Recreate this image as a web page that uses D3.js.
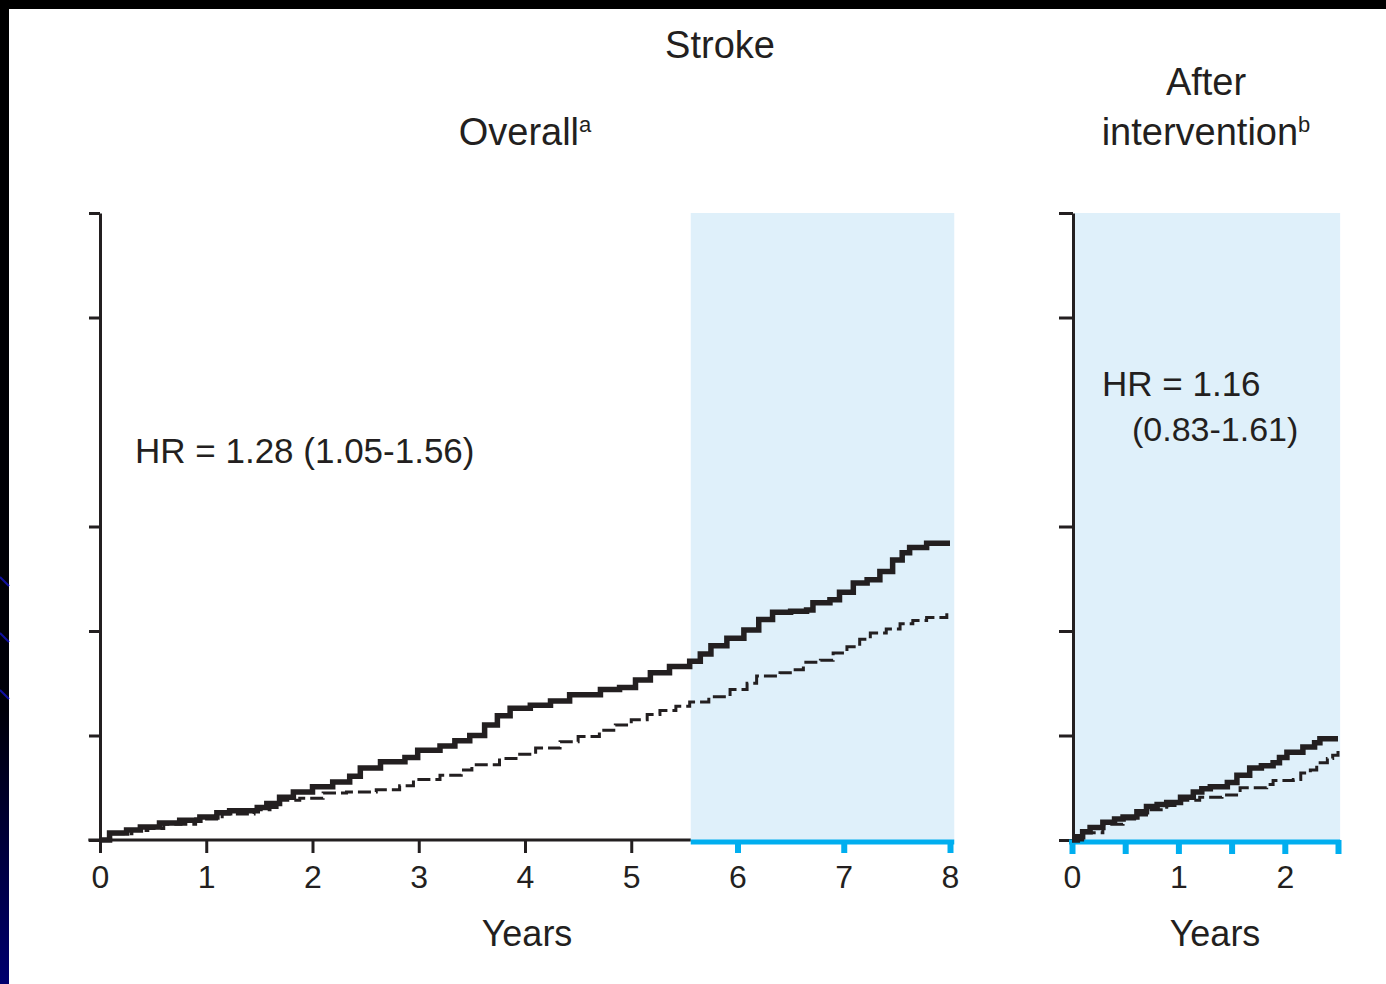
<!DOCTYPE html>
<html>
<head>
<meta charset="utf-8">
<script src="https://cdn.jsdelivr.net/npm/d3@7"></script>
<style>
  html, body { margin: 0; padding: 0; background: #fff; }
  svg { display: block; }
  text { font-family: "Liberation Sans", Arial, Helvetica, sans-serif; fill: #231f20; }
</style>
</head>
<body>
<svg id="chart" width="1386" height="984"></svg>
<script>
// Cumulative stroke incidence, overall follow-up (years 0-8)
const overallYears   = [0, 0.09, 0.25, 0.38, 0.56, 0.75, 0.94, 1.10, 1.22, 1.48, 1.57, 1.69, 1.82, 2.0, 2.19, 2.35, 2.45, 2.64, 2.87, 2.99, 3.2, 3.34, 3.48, 3.62, 3.74, 3.86, 4.05, 4.24, 4.42, 4.71, 4.89, 5.04, 5.18, 5.36, 5.55, 5.65, 5.75, 5.9, 6.06, 6.2, 6.33, 6.5, 6.65, 6.71, 6.87, 6.96, 7.09, 7.22, 7.34, 7.46, 7.55, 7.62, 7.78, 8.0];
const overallActive  = [0, 0.067, 0.096, 0.124, 0.163, 0.19, 0.22, 0.26, 0.28, 0.31, 0.35, 0.41, 0.46, 0.51, 0.555, 0.61, 0.69, 0.75, 0.79, 0.86, 0.90, 0.95, 1.0, 1.10, 1.19, 1.26, 1.29, 1.33, 1.39, 1.44, 1.46, 1.53, 1.60, 1.66, 1.71, 1.78, 1.86, 1.93, 2.01, 2.11, 2.18, 2.19, 2.20, 2.27, 2.30, 2.37, 2.46, 2.49, 2.57, 2.68, 2.75, 2.80, 2.84, 2.84];
const overallYearsP  = [0, 0.1, 0.3, 0.45, 0.6, 0.9, 1.15, 1.45, 1.6, 1.69, 1.88, 2.1, 2.32, 2.6, 2.82, 2.95, 3.2, 3.4, 3.5, 3.76, 3.95, 4.1, 4.33, 4.5, 4.7, 4.85, 5.0, 5.15, 5.27, 5.42, 5.55, 5.73, 5.93, 6.09, 6.18, 6.4, 6.52, 6.62, 6.78, 6.9, 7.03, 7.15, 7.25, 7.4, 7.53, 7.65, 7.78, 7.97];
const overallPlacebo = [0, 0.06, 0.09, 0.11, 0.15, 0.20, 0.25, 0.29, 0.31, 0.38, 0.40, 0.45, 0.46, 0.48, 0.52, 0.58, 0.62, 0.67, 0.72, 0.78, 0.82, 0.88, 0.94, 0.99, 1.05, 1.10, 1.15, 1.20, 1.24, 1.28, 1.32, 1.37, 1.44, 1.50, 1.57, 1.60, 1.63, 1.70, 1.72, 1.79, 1.85, 1.92, 1.98, 2.02, 2.07, 2.10, 2.13, 2.17];

// Cumulative stroke incidence after the intervention ended (years 0-2.5)
const afterYears    = [0, 0.05, 0.1, 0.17, 0.29, 0.4, 0.48, 0.61, 0.70, 0.8, 0.89, 1.02, 1.14, 1.22, 1.30, 1.46, 1.55, 1.67, 1.78, 1.89, 1.95, 2.02, 2.17, 2.28, 2.33, 2.5];
const afterActive   = [0, 0.03, 0.08, 0.12, 0.17, 0.20, 0.22, 0.27, 0.32, 0.34, 0.36, 0.41, 0.46, 0.49, 0.51, 0.55, 0.62, 0.69, 0.71, 0.74, 0.79, 0.84, 0.89, 0.93, 0.97, 0.97];
const afterYearsP   = [0, 0.1, 0.29, 0.48, 0.61, 0.70, 0.89, 1.02, 1.2, 1.41, 1.58, 1.83, 1.89, 2.08, 2.15, 2.24, 2.3, 2.4, 2.45, 2.5];
const afterPlacebo  = [0, 0.07, 0.15, 0.20, 0.24, 0.29, 0.33, 0.38, 0.41, 0.43, 0.50, 0.53, 0.57, 0.58, 0.64, 0.67, 0.74, 0.78, 0.81, 0.86];

// Axis tick values
const yTicks         = [0, 1, 2, 3, 5, 6];
const overallXTicksA = [0, 1, 2, 3, 4, 5];
const overallXTicksB = [6, 7, 8];
const afterXTicks    = [0, 0.5, 1, 1.5, 2, 2.5];
const afterXLabels   = [0, 1, 2];

// Post-intervention shaded windows (years)
const overallShade = [5.56, 8.04];
const afterShade   = [0.02, 2.52];

// Texts
const mainTitle    = "Stroke";
const leftTitle    = "Overall";
const leftSup      = "a";
const rightTitle1  = "After";
const rightTitle2  = "intervention";
const rightSup     = "b";
const leftHR       = "HR = 1.28 (1.05-1.56)";
const rightHR1     = "HR = 1.16";
const rightHR2     = "(0.83-1.61)";
const xTitle       = "Years";

const INK = "#231f20", BLUE = "#00aeef", SHADE = "#dff0fa";

const svg = d3.select("#chart");

// Slide frame on the top and left edges
const defs = svg.append("defs");
const grad = defs.append("linearGradient").attr("id", "edge").attr("x1", 0).attr("y1", 0).attr("x2", 0).attr("y2", 1);
grad.append("stop").attr("offset", "0%").attr("stop-color", "#000");
grad.append("stop").attr("offset", "72%").attr("stop-color", "#000008");
grad.append("stop").attr("offset", "100%").attr("stop-color", "#00006e");
svg.append("rect").attr("x", 0).attr("y", 0).attr("width", 1386).attr("height", 9).attr("fill", "#000");
svg.append("rect").attr("x", 0).attr("y", 0).attr("width", 9).attr("height", 984).attr("fill", "url(#edge)");
[582, 638, 695].forEach(y => {
  svg.append("line").attr("x1", 0).attr("y1", y - 5).attr("x2", 9).attr("y2", y + 4)
    .attr("stroke", "#1010a0").attr("stroke-width", 2);
});

const y = d3.scaleLinear().domain([0, 6]).range([840, 213]);
const xL = d3.scaleLinear().domain([0, 8]).range([100, 950]);
const xR = d3.scaleLinear().domain([0, 2.5]).range([1072, 1338]);

// Shaded post-intervention windows
svg.append("rect").attr("x", xL(overallShade[0])).attr("y", y(6))
  .attr("width", xL(overallShade[1]) - xL(overallShade[0])).attr("height", y(0) - y(6)).attr("fill", SHADE);
svg.append("rect").attr("x", xR(afterShade[0])).attr("y", y(6))
  .attr("width", xR(afterShade[1]) - xR(afterShade[0])).attr("height", y(0) - y(6)).attr("fill", SHADE);

function styleAxis(g, color, width) {
  g.selectAll(".domain").remove();
  g.selectAll(".tick line").attr("stroke", color).attr("stroke-width", width);
  g.selectAll(".tick text").attr("fill", INK).style("font-size", "32px")
    .style("font-family", '"Liberation Sans", Arial, sans-serif');
}

// ---- Left panel: overall ----
const yAxisL = svg.append("g").attr("transform", `translate(${xL(0)},0)`)
  .call(d3.axisLeft(y).tickValues(yTicks).tickFormat("").tickSizeInner(11).tickSizeOuter(0));
yAxisL.select(".domain").attr("stroke", INK).attr("stroke-width", 3);
yAxisL.selectAll(".tick line").attr("stroke", INK).attr("stroke-width", 3);

const xAxisLA = svg.append("g").attr("transform", `translate(0,${y(0)})`)
  .call(d3.axisBottom(xL).tickValues(overallXTicksA).tickFormat(d3.format("d")).tickSize(13).tickPadding(12));
styleAxis(xAxisLA, INK, 3);
svg.append("line").attr("x1", xL(-0.11)).attr("x2", xL(overallShade[0])).attr("y1", y(0)).attr("y2", y(0))
  .attr("stroke", INK).attr("stroke-width", 3);

const xAxisLB = svg.append("g").attr("transform", `translate(0,${y(0)})`)
  .call(d3.axisBottom(xL).tickValues(overallXTicksB).tickFormat(d3.format("d")).tickSize(13).tickPadding(12));
styleAxis(xAxisLB, BLUE, 6);
svg.append("line").attr("x1", xL(overallShade[0])).attr("x2", xL(overallShade[1])).attr("y1", y(0) + 2).attr("y2", y(0) + 2)
  .attr("stroke", BLUE).attr("stroke-width", 5);

const stepL = d3.line().x(d => xL(d[0])).y(d => y(d[1])).curve(d3.curveStepAfter);
svg.append("path").datum(d3.zip(overallYearsP, overallPlacebo)).attr("d", stepL)
  .attr("fill", "none").attr("stroke", INK).attr("stroke-width", 3).attr("stroke-dasharray", "13,5");
svg.append("path").datum(d3.zip(overallYears, overallActive)).attr("d", stepL)
  .attr("fill", "none").attr("stroke", INK).attr("stroke-width", 5.5);

// ---- Right panel: after intervention ----
const yAxisR = svg.append("g").attr("transform", `translate(${xR(0) + 1},0)`)
  .call(d3.axisLeft(y).tickValues(yTicks).tickFormat("").tickSizeInner(14).tickSizeOuter(0));
yAxisR.select(".domain").attr("stroke", INK).attr("stroke-width", 3);
yAxisR.selectAll(".tick line").attr("stroke", INK).attr("stroke-width", 3);

const xAxisR = svg.append("g").attr("transform", `translate(0,${y(0)})`)
  .call(d3.axisBottom(xR).tickValues(afterXTicks)
    .tickFormat(d => afterXLabels.includes(d) ? d3.format("d")(d) : "").tickSize(14).tickPadding(11));
styleAxis(xAxisR, BLUE, 6);
svg.append("line").attr("x1", xR(0) - 3).attr("x2", xR(afterShade[1])).attr("y1", y(0) + 2).attr("y2", y(0) + 2)
  .attr("stroke", BLUE).attr("stroke-width", 5);

const stepR = d3.line().x(d => xR(d[0])).y(d => y(d[1])).curve(d3.curveStepAfter);
svg.append("path").datum(d3.zip(afterYearsP, afterPlacebo)).attr("d", stepR)
  .attr("fill", "none").attr("stroke", INK).attr("stroke-width", 3).attr("stroke-dasharray", "13,5");
svg.append("path").datum(d3.zip(afterYears, afterActive)).attr("d", stepR)
  .attr("fill", "none").attr("stroke", INK).attr("stroke-width", 5.5);

// ---- Titles and annotations ----
svg.append("text").attr("x", 720).attr("y", 58).attr("text-anchor", "middle")
  .style("font-size", "38px").text(mainTitle);

const lt = svg.append("text").attr("x", 525).attr("y", 145).attr("text-anchor", "middle").style("font-size", "38px");
lt.append("tspan").text(leftTitle);
lt.append("tspan").attr("dy", -13).style("font-size", "22px").text(leftSup);

svg.append("text").attr("x", 1206).attr("y", 95).attr("text-anchor", "middle")
  .style("font-size", "38px").text(rightTitle1);
const rt = svg.append("text").attr("x", 1206).attr("y", 145).attr("text-anchor", "middle").style("font-size", "38px");
rt.append("tspan").text(rightTitle2);
rt.append("tspan").attr("dy", -13).style("font-size", "22px").text(rightSup);

svg.append("text").attr("x", 135).attr("y", 463).style("font-size", "35px").text(leftHR);
svg.append("text").attr("x", 1102).attr("y", 396).style("font-size", "35px").text(rightHR1);
svg.append("text").attr("x", 1132).attr("y", 441).style("font-size", "34px").text(rightHR2);

svg.append("text").attr("x", 527).attr("y", 946).attr("text-anchor", "middle")
  .style("font-size", "36px").text(xTitle);
svg.append("text").attr("x", 1215).attr("y", 946).attr("text-anchor", "middle")
  .style("font-size", "36px").text(xTitle);
</script>
</body>
</html>
